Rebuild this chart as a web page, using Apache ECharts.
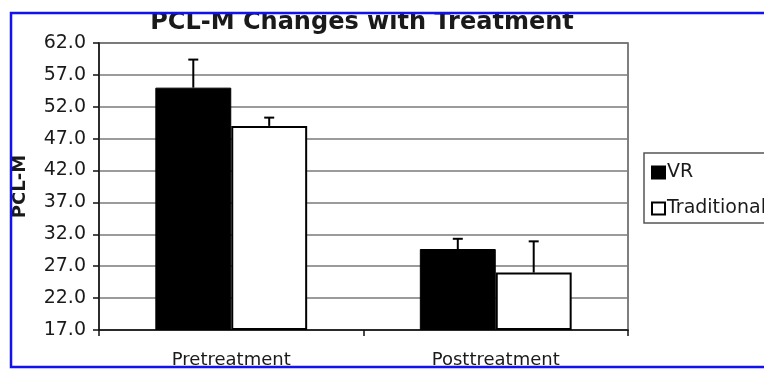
<!DOCTYPE html>
<html>
<head>
    <meta charset="UTF-8">
    <title>PCL-M Changes with Treatment</title>
    <script src="https://cdn.jsdelivr.net/npm/echarts@6/dist/echarts.min.js"></script>
</head>
<body style="margin: 0; padding: 0; background: #fff;">
    <div id="container" style="width: 764px; height: 369px;"></div>
    <script>
        // values
        var categories = ['Pretreatment', 'Posttreatment'];
        var seriesNames = ['VR', 'Traditional'];
        var vrMeans = [55.0, 29.7];
        var vrErrors = [4.4, 1.6];
        var tradMeans = [49.0, 26.0];
        var tradErrors = [1.3, 4.9];
        var yTicks = [17, 22, 27, 32, 37, 42, 47, 52, 57, 62];

        // axis starts at 17 and steps by 5, so values are drawn relative to the base
        var BASE = yTicks[0];
        var STEP = yTicks[1] - yTicks[0];
        var TOP = yTicks[yTicks.length - 1];
        var BAR_FRAC = 0.287;
        var FONT = 'DejaVu Sans';

        function shift(arr) {
            return arr.map(function (v) { return v - BASE; });
        }

        function errData(means, errs) {
            return means.map(function (m, i) { return [i, m - BASE, errs[i]]; });
        }

        function errorBar(sign) {
            return function (params, api) {
                var i = api.value(0);
                var v = api.value(1);
                var e = api.value(2);
                var p0 = api.coord([i, v]);
                var p1 = api.coord([i, v + e]);
                var bw = api.size([1, 0])[0] * BAR_FRAC;
                var cx = p0[0] + sign * bw / 2;
                var style = { stroke: '#000', lineWidth: 2 };
                return {
                    type: 'group',
                    children: [
                        { type: 'line', shape: { x1: cx, y1: p0[1], x2: cx, y2: p1[1] }, style: style },
                        { type: 'line', shape: { x1: cx - 5, y1: p1[1], x2: cx + 5, y2: p1[1] }, style: style }
                    ]
                };
            };
        }

        var chart = echarts.init(document.getElementById('container'), null, { renderer: 'canvas' });

        var option = {
            animation: false,
            backgroundColor: '#fff',
            textStyle: { fontFamily: FONT },
            title: {
                text: 'PCL-M Changes with Treatment',
                left: 362,
                top: 11,
                padding: 0,
                textAlign: 'center',
                textStyle: { fontFamily: FONT, fontSize: 24, fontWeight: 'bold', color: '#1a1a1a' }
            },
            legend: {
                data: seriesNames,
                orient: 'vertical',
                left: 644,
                top: 153,
                padding: [10, 60, 5, 7],
                icon: 'rect',
                itemWidth: 13,
                itemHeight: 12,
                itemGap: 17,
                borderColor: '#555',
                borderWidth: 1.5,
                textStyle: { fontFamily: FONT, fontSize: 19, color: '#1a1a1a', padding: [0, 0, 0, -3] }
            },
            grid: {
                left: 99,
                right: 136,
                top: 43,
                bottom: 37,
                show: true,
                borderColor: '#555',
                borderWidth: 1.5
            },
            xAxis: {
                type: 'category',
                data: categories,
                axisLine: { lineStyle: { color: '#111', width: 1.5 } },
                axisTick: { show: true, length: 6, lineStyle: { color: '#111', width: 1.5 } },
                axisLabel: { fontFamily: FONT, fontSize: 18, color: '#1a1a1a', margin: 21 }
            },
            yAxis: {
                type: 'value',
                min: 0,
                max: TOP - BASE,
                interval: STEP,
                name: 'PCL-M',
                nameLocation: 'middle',
                nameRotate: 90,
                nameGap: 70,
                nameTextStyle: { fontFamily: FONT, fontSize: 18, fontWeight: 'bold', color: '#1a1a1a' },
                axisLine: { show: true, lineStyle: { color: '#111', width: 1.5 } },
                axisTick: { show: true, length: 6, lineStyle: { color: '#111', width: 1.5 } },
                axisLabel: {
                    fontFamily: FONT, fontSize: 19, color: '#1a1a1a', margin: 13,
                    formatter: function (v) { return (v + BASE).toFixed(1); }
                },
                splitLine: { lineStyle: { color: '#7a7a7a', width: 1.5 } }
            },
            series: [{
                name: 'VR',
                type: 'bar',
                barWidth: (BAR_FRAC * 100) + '%',
                barGap: 0,
                itemStyle: { color: '#000', borderColor: '#000', borderWidth: 1 },
                data: shift(vrMeans)
            }, {
                name: 'Traditional',
                type: 'bar',
                barWidth: (BAR_FRAC * 100) + '%',
                barGap: 0,
                itemStyle: { color: '#fff', borderColor: '#000', borderWidth: 2 },
                data: shift(tradMeans)
            }, {
                name: 'VR err',
                type: 'custom',
                renderItem: errorBar(-1),
                encode: { x: 0, y: 1 },
                z: 5,
                data: errData(vrMeans, vrErrors)
            }, {
                name: 'Traditional err',
                type: 'custom',
                renderItem: errorBar(1),
                encode: { x: 0, y: 1 },
                z: 5,
                data: errData(tradMeans, tradErrors)
            }],
            graphic: [
                // white margin outside the blue frame
                { type: 'rect', z: 100, shape: { x: 0, y: 0, width: 764, height: 12 }, style: { fill: '#fff' } },
                { type: 'rect', z: 100, shape: { x: 0, y: 0, width: 10, height: 369 }, style: { fill: '#fff' } },
                // blue frame
                { type: 'rect', z: 101, shape: { x: 11, y: 13, width: 900, height: 354 },
                  style: { fill: 'none', stroke: '#1212ee', lineWidth: 2.5 } }
            ]
        };

        chart.setOption(option);
    </script>
</body>
</html>
